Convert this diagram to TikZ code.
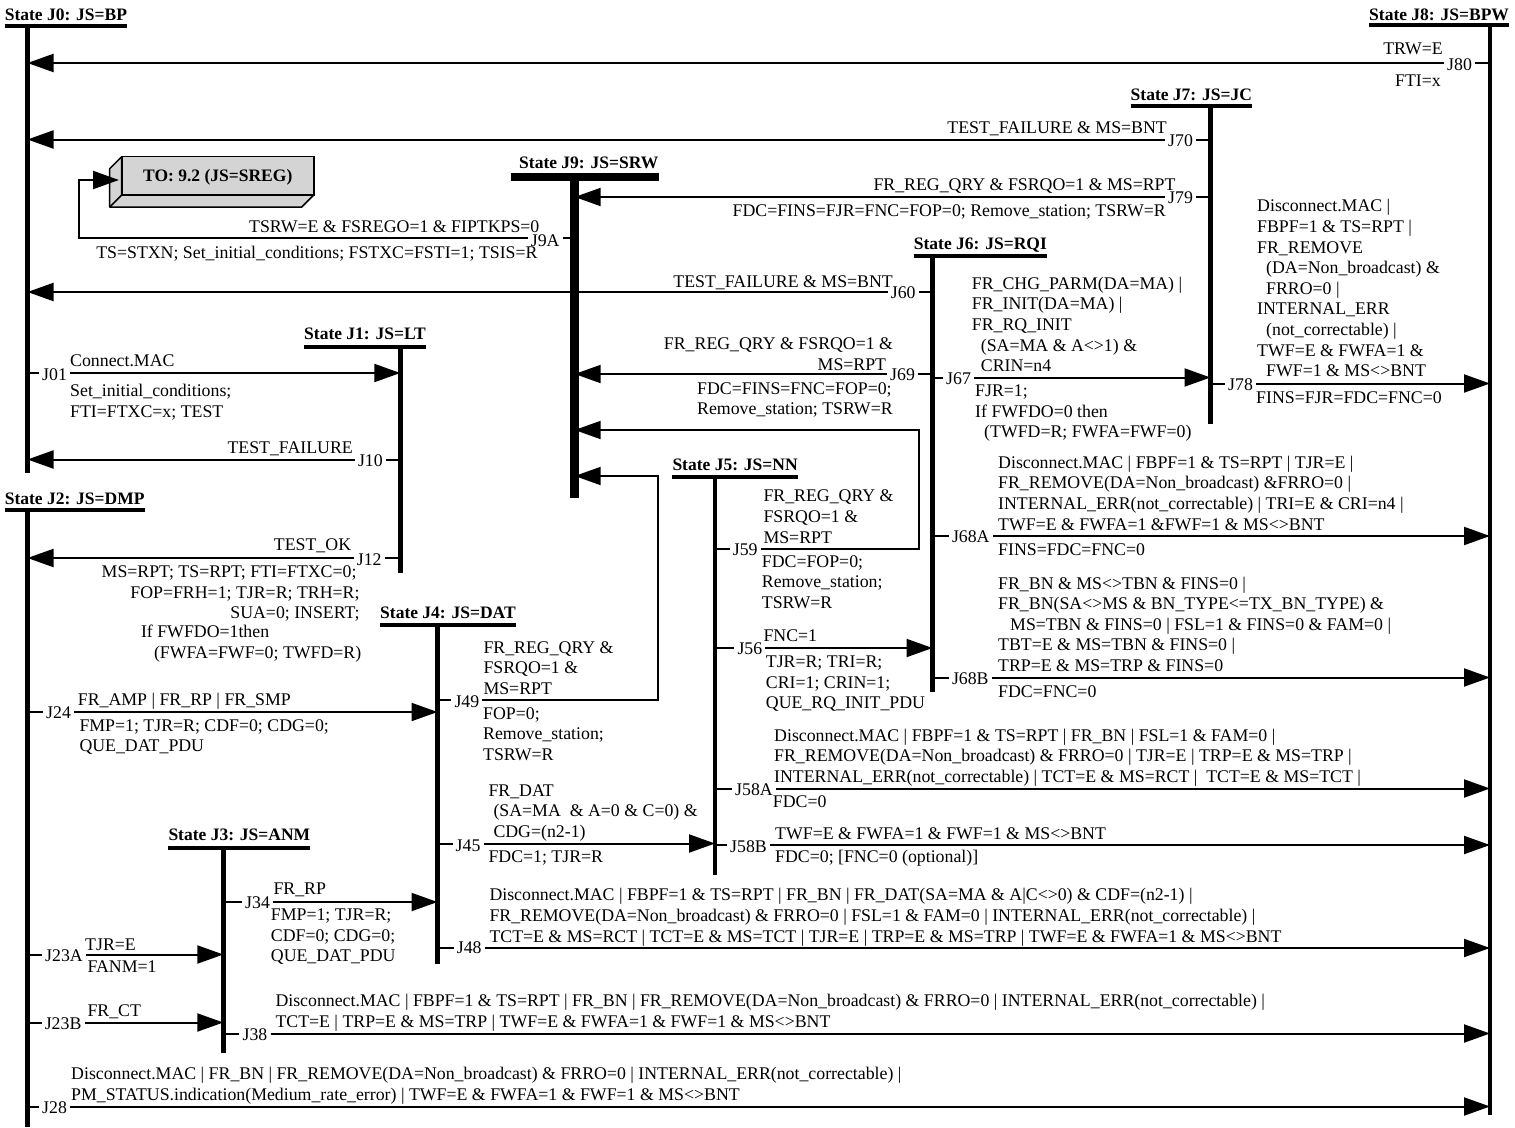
\documentclass[tikz,border=0pt]{standalone}
\usepackage{fontspec}
\setmainfont{Liberation Serif}
\usetikzlibrary{arrows.meta}
\definecolor{boxgray}{gray}{0.83}
\newcommand\ab[1]{\begin{tabular}[b]{@{}l@{}}#1\end{tabular}}
\newcommand\bl[1]{\begin{tabular}[t]{@{}l@{}}#1\end{tabular}}
\newcommand\abr[1]{\begin{tabular}[b]{@{}r@{}}#1\end{tabular}}
\newcommand\blr[1]{\begin{tabular}[t]{@{}r@{}}#1\end{tabular}}
\newcommand\ii{\hspace*{9pt}}
\newcommand\goL[3]{\draw[tk] (#1) -- (#2.east |- #1); \draw[ar] (#2.west |- #1) -- (#3);}
\newcommand\goR[3]{\draw[tk] (#1) -- (#2.west |- #1); \draw[ar] (#2.east |- #1) -- (#3);}
\tikzset{
  tx/.style={inner sep=0pt, font=\fontsize{17.8}{20.6}\selectfont},
  tw/.style={tx, anchor=base west},
  te/.style={tx, anchor=base east},
  jl/.style={tx, anchor=base west, inner xsep=3pt},
  hd/.style={inner sep=0pt, anchor=base west, font=\fontsize{17.5}{20}\selectfont\bfseries},
  bar/.style={line width=4.5pt},
  hbar/.style={line width=4pt},
  tk/.style={line width=2pt},
  ar/.style={line width=2pt, -{Triangle[length=26pt,width=18pt]}},
}
\begin{document}
\begin{tikzpicture}[x=1pt,y=-1pt]
\useasboundingbox (0,0) rectangle (1515,1127);

% state bar coordinates
\coordinate (J0t) at (27.5,26);    \coordinate (J0b) at (27.5,473);
\coordinate (J2t) at (27.5,510);   \coordinate (J2b) at (27.5,1127);
\coordinate (J8t) at (1490,25);    \coordinate (J8b) at (1490,1115);
\coordinate (J7t) at (1210.5,105.5); \coordinate (J7b) at (1210.5,424);
\coordinate (J9t) at (574.7,176.7);  \coordinate (J9b) at (574.7,497.7);
\coordinate (J6t) at (932.5,255.5);  \coordinate (J6b) at (932.5,692);
\coordinate (J1t) at (400.3,347);    \coordinate (J1b) at (400.3,573);
\coordinate (J5t) at (715,476.5);    \coordinate (J5b) at (715,874.5);
\coordinate (J4t) at (437.5,625);    \coordinate (J4b) at (437.5,963.5);
\coordinate (J3t) at (223.3,847.7);  \coordinate (J3b) at (223.3,1053);

% headers
\node[hd] (hJ0) at (4.6,20.7) {State J0: JS=BP};
\node[hd] (hJ8) at (1369,20.5) {State J8: JS=BPW};
\node[hd] (hJ7) at (1130.5,100.7) {State J7: JS=JC};
\node[hd] (hJ9) at (519,168.3) {State J9: JS=SRW};
\node[hd] (hJ6) at (913.7,249.3) {State J6: JS=RQI};
\node[hd] (hJ1) at (304,339.3) {State J1: JS=LT};
\node[hd] (hJ2) at (4.6,504.3) {State J2: JS=DMP};
\node[hd] (hJ5) at (672.3,470.7) {State J5: JS=NN};
\node[hd] (hJ4) at (380,618.3) {State J4: JS=DAT};
\node[hd] (hJ3) at (168.3,840) {State J3: JS=ANM};

% 3D box
\filldraw[fill=boxgray, line width=1.5pt, line join=round] (121.7,156.7) -- (109.7,168.7) -- (109.7,207) -- (301.8,207) -- (313.8,195) -- (121.7,195) -- cycle;
\draw[line width=1.5pt] (121.7,195) -- (109.7,207);
\node[draw, line width=1.5pt, fill=boxgray, minimum width=192pt, minimum height=38.3pt, inner sep=0pt, text height=12pt, text depth=0pt, font=\fontsize{17.5}{20}\selectfont\bfseries] (box) at (217.75,175.85) {TO: 9.2 (JS=SREG)};

% J80
\coordinate (s80) at (1490,63); \coordinate (e80) at (27.5,63);
\node[jl] (l80) at (1444,70.5) {J80};
\goL{s80}{l80}{e80}
\node[te] (a80) at (1443,54) {TRW=E};
\node[te] (b80) at (1441,86.7) {FTI=x};

% J70
\coordinate (s70) at (1210.5,139.5); \coordinate (e70) at (27.5,139.5);
\node[jl] (l70) at (1165,146.5) {J70};
\goL{s70}{l70}{e70}
\node[te] (a70) at (1167,133.5) {TEST\_FAILURE \& MS=BNT};

% J79
\coordinate (s79) at (1210.5,197); \coordinate (e79) at (574.7,197);
\node[jl] (l79) at (1165,203.5) {J79};
\goL{s79}{l79}{e79}
\node[te] (a79) at (1175.7,190.5) {FR\_REG\_QRY \& FSRQO=1 \& MS=RPT};
\node[te] (b79) at (1166,216.7) {FDC=FINS=FJR=FNC=FOP=0; Remove\_station; TSRW=R};

% J9A
\coordinate (s9A) at (574.7,238); \coordinate (c9A) at (78.5,180); \coordinate (bxin) at (119,180);
\node[jl] (l9A) at (527.7,246) {J9A};
\draw[tk] (s9A) -- (l9A.east |- s9A);
\draw[ar] (l9A.west |- s9A) -| (c9A) -- (bxin);
\node[te] (a9A) at (539.6,232.8) {TSRW=E \& FSREGO=1 \& FIPTKPS=0};
\node[te] (b9A) at (537.7,258.3) {TS=STXN; Set\_initial\_conditions; FSTXC=FSTI=1; TSIS=R};

% J60
\coordinate (s60) at (932.5,292); \coordinate (e60) at (27.5,292);
\node[jl] (l60) at (887.7,298) {J60};
\goL{s60}{l60}{e60}
\node[te] (a60) at (893,287.3) {TEST\_FAILURE \& MS=BNT};

% J01
\coordinate (s01) at (27.5,373); \coordinate (e01) at (400.3,373);
\node[jl] (l01) at (39,380.5) {J01};
\goR{s01}{l01}{e01}
\node[tw] (a01) at (70,366) {Connect.MAC};
\node[tw] (b01) at (70,396.7) {\bl{Set\_initial\_conditions;\\FTI=FTXC=x; TEST}};

% J10
\coordinate (s10) at (400.3,459.5); \coordinate (e10) at (27.5,459.5);
\node[jl] (l10) at (354.8,466) {J10};
\goL{s10}{l10}{e10}
\node[te] (a10) at (353,453.3) {TEST\_FAILURE};

% J12
\coordinate (s12) at (400.3,558); \coordinate (e12) at (27.5,558);
\node[jl] (l12) at (353.7,565) {J12};
\goL{s12}{l12}{e12}
\node[te] (a12) at (351.3,550.7) {TEST\_OK};
\node[te] (b12) at (359.7,577.7) {\blr{MS=RPT; TS=RPT; FTI=FTXC=0;\hspace*{3pt}\\FOP=FRH=1; TJR=R; TRH=R;\\SUA=0; INSERT;}};
\node[tw] (c12) at (140.8,637.7) {\bl{If FWFDO=1then\\\hspace*{13pt}(FWFA=FWF=0; TWFD=R)}};

% J69
\coordinate (s69) at (932.5,374); \coordinate (e69) at (574.7,374);
\node[jl] (l69) at (887,380.7) {J69};
\goL{s69}{l69}{e69}
\node[te] (a69) at (893.3,370) {\abr{FR\_REG\_QRY \& FSRQO=1 \&\\MS=RPT\hspace*{7pt}}};
\node[tw] (b69) at (697,394) {\bl{FDC=FINS=FNC=FOP=0;\\Remove\_station; TSRW=R}};

% J67
\coordinate (s67) at (932.5,377.5); \coordinate (e67) at (1210.5,377.5);
\node[jl] (l67) at (943,384.5) {J67};
\goR{s67}{l67}{e67}
\node[tw] (a67) at (971.7,371.7) {\ab{FR\_CHG\_PARM(DA=MA) |\\FR\_INIT(DA=MA) |\\FR\_RQ\_INIT\\\ii(SA=MA \& A<>1) \&\\\ii CRIN=n4}};
\node[tw] (b67) at (975,396.7) {\bl{FJR=1;\\If FWFDO=0 then\\\ii(TWFD=R; FWFA=FWF=0)}};

% J78
\coordinate (s78) at (1210.5,383.5); \coordinate (e78) at (1490,383.5);
\node[jl] (l78) at (1225,390.5) {J78};
\goR{s78}{l78}{e78}
\node[tw] (a78) at (1257,376.7) {\ab{Disconnect.MAC |\\FBPF=1 \& TS=RPT |\\FR\_REMOVE\\\ii(DA=Non\_broadcast) \&\\\ii FRRO=0 |\\INTERNAL\_ERR\\\ii(not\_correctable) |\\TWF=E \& FWFA=1 \&\\\ii FWF=1 \& MS<>BNT}};
\node[tw] (b78) at (1256,403.3) {FINS=FJR=FDC=FNC=0};

% J59
\coordinate (s59) at (715,548.5); \coordinate (c59) at (919,430); \coordinate (e59) at (574.7,430);
\node[jl] (l59) at (729.7,555.5) {J59};
\draw[tk] (s59) -- (l59.west |- s59);
\draw[ar] (l59.east |- s59) -| (c59) -- (e59);
\node[tw] (a59) at (763.3,543) {\ab{FR\_REG\_QRY \&\\FSRQO=1 \&\\MS=RPT}};
\node[tw] (b59) at (761.7,567.3) {\bl{FDC=FOP=0;\\Remove\_station;\\TSRW=R}};

% J49
\coordinate (s49) at (437.5,700); \coordinate (c49) at (658.3,476); \coordinate (e49) at (574.7,476);
\node[jl] (l49) at (451.3,707) {J49};
\draw[tk] (s49) -- (l49.west |- s49);
\draw[ar] (l49.east |- s49) -| (c49) -- (e49);
\node[tw] (a49) at (483.3,694.3) {\ab{FR\_REG\_QRY \&\\FSRQO=1 \&\\MS=RPT}};
\node[tw] (b49) at (483,719.3) {\bl{FOP=0;\\Remove\_station;\\TSRW=R}};

% J56
\coordinate (s56) at (715,648); \coordinate (e56) at (932.5,648);
\node[jl] (l56) at (734.3,654) {J56};
\goR{s56}{l56}{e56}
\node[tw] (a56) at (763.3,641) {FNC=1};
\node[tw] (b56) at (765.7,667.7) {\bl{TJR=R; TRI=R;\\CRI=1; CRIN=1;\\QUE\_RQ\_INIT\_PDU}};

% J68A
\coordinate (s68a) at (932.5,536); \coordinate (e68a) at (1490,536);
\node[jl] (l68a) at (948.8,542.5) {J68A};
\goR{s68a}{l68a}{e68a}
\node[tw] (a68a) at (998,530) {\ab{Disconnect.MAC | FBPF=1 \& TS=RPT | TJR=E |\\FR\_REMOVE(DA=Non\_broadcast) \&FRRO=0 |\\INTERNAL\_ERR(not\_correctable) | TRI=E \& CRI=n4 |\\TWF=E \& FWFA=1 \&FWF=1 \& MS<>BNT}};
\node[tw] (b68a) at (998,555) {FINS=FDC=FNC=0};

% J68B
\coordinate (s68b) at (932.5,677.5); \coordinate (e68b) at (1490,677.5);
\node[jl] (l68b) at (948.8,684) {J68B};
\goR{s68b}{l68b}{e68b}
\node[tw] (a68b) at (998,671.5) {\ab{FR\_BN \& MS<>TBN \& FINS=0 |\\FR\_BN(SA<>MS \& BN\_TYPE<=TX\_BN\_TYPE) \&\\\hspace*{12pt}MS=TBN \& FINS=0 | FSL=1 \& FINS=0 \& FAM=0 |\\TBT=E \& MS=TBN \& FINS=0 |\\TRP=E \& MS=TRP \& FINS=0}};
\node[tw] (b68b) at (998,697) {FDC=FNC=0};

% J58A
\coordinate (s58a) at (715,788.5); \coordinate (e58a) at (1490,788.5);
\node[jl] (l58a) at (732,795.5) {J58A};
\goR{s58a}{l58a}{e58a}
\node[tw] (a58a) at (774,782.5) {\ab{Disconnect.MAC | FBPF=1 \& TS=RPT | FR\_BN | FSL=1 \& FAM=0 |\\FR\_REMOVE(DA=Non\_broadcast) \& FRRO=0 | TJR=E | TRP=E \& MS=TRP |\\INTERNAL\_ERR(not\_correctable) | TCT=E \& MS=RCT |\ \ TCT=E \& MS=TCT |}};
\node[tw] (b58a) at (772.7,807.5) {FDC=0};

% J58B
\coordinate (s58b) at (715,845); \coordinate (e58b) at (1490,845);
\node[jl] (l58b) at (727,852) {J58B};
\goR{s58b}{l58b}{e58b}
\node[tw] (a58b) at (775,839.3) {TWF=E \& FWFA=1 \& FWF=1 \& MS<>BNT};
\node[tw] (b58b) at (775,862) {FDC=0; [FNC=0 (optional)]};

% J45
\coordinate (s45) at (437.5,843.5); \coordinate (e45) at (715,843.5);
\node[jl] (l45) at (452.5,851) {J45};
\goR{s45}{l45}{e45}
\node[tw] (a45) at (488.3,837.5) {\ab{FR\_DAT\\\hspace*{5pt}(SA=MA\ \ \& A=0 \& C=0) \&\\\hspace*{5pt}CDG=(n2-1)}};
\node[tw] (b45) at (488.3,862) {FDC=1; TJR=R};

% J24
\coordinate (s24) at (27.5,712); \coordinate (e24) at (437.5,712);
\node[jl] (l24) at (43,718) {J24};
\goR{s24}{l24}{e24}
\node[tw] (a24) at (77.7,705) {FR\_AMP | FR\_RP | FR\_SMP};
\node[tw] (b24) at (79.3,731) {\bl{FMP=1; TJR=R; CDF=0; CDG=0;\\QUE\_DAT\_PDU}};

% J34
\coordinate (s34) at (223.3,902); \coordinate (e34) at (437.5,902);
\node[jl] (l34) at (242,908.5) {J34};
\goR{s34}{l34}{e34}
\node[tw] (a34) at (273.3,894) {FR\_RP};
\node[tw] (b34) at (270.7,920.5) {\bl{FMP=1; TJR=R;\\CDF=0; CDG=0;\\QUE\_DAT\_PDU}};

% J48
\coordinate (s48) at (437.5,948); \coordinate (e48) at (1490,948);
\node[jl] (l48) at (453.7,953.5) {J48};
\goR{s48}{l48}{e48}
\node[tw] (a48) at (489.3,942) {\ab{Disconnect.MAC | FBPF=1 \& TS=RPT | FR\_BN | FR\_DAT(SA=MA \& A|C<>0) \& CDF=(n2-1) |\\FR\_REMOVE(DA=Non\_broadcast) \& FRRO=0 | FSL=1 \& FAM=0 | INTERNAL\_ERR(not\_correctable) |\\TCT=E \& MS=RCT | TCT=E \& MS=TCT | TJR=E | TRP=E \& MS=TRP | TWF=E \& FWFA=1 \& MS<>BNT}};

% J23A
\coordinate (s23a) at (27.5,954.5); \coordinate (e23a) at (223.3,954.5);
\node[jl] (l23a) at (42,961) {J23A};
\goR{s23a}{l23a}{e23a}
\node[tw] (a23a) at (85,950) {TJR=E};
\node[tw] (b23a) at (87.3,972) {FANM=1};

% J23B
\coordinate (s23b) at (27.5,1022.5); \coordinate (e23b) at (223.3,1022.5);
\node[jl] (l23b) at (41.6,1029) {J23B};
\goR{s23b}{l23b}{e23b}
\node[tw] (a23b) at (87.3,1016) {FR\_CT};

% J38
\coordinate (s38) at (223.3,1033.5); \coordinate (e38) at (1490,1033.5);
\node[jl] (l38) at (239.4,1040) {J38};
\goR{s38}{l38}{e38}
\node[tw] (a38) at (275.3,1027.5) {\ab{Disconnect.MAC | FBPF=1 \& TS=RPT | FR\_BN | FR\_REMOVE(DA=Non\_broadcast) \& FRRO=0 | INTERNAL\_ERR(not\_correctable) |\\TCT=E | TRP=E \& MS=TRP | TWF=E \& FWFA=1 \& FWF=1 \& MS<>BNT}};

% J28
\coordinate (s28) at (27.5,1106.5); \coordinate (e28) at (1490,1106.5);
\node[jl] (l28) at (39,1113) {J28};
\goR{s28}{l28}{e28}
\node[tw] (a28) at (71,1100.5) {\ab{Disconnect.MAC | FR\_BN | FR\_REMOVE(DA=Non\_broadcast) \& FRRO=0 | INTERNAL\_ERR(not\_correctable) |\\PM\_STATUS.indication(Medium\_rate\_error) | TWF=E \& FWFA=1 \& FWF=1 \& MS<>BNT}};

% state bars and underlines (drawn last, on top)
\draw[bar] (J0t) -- (J0b);
\draw[bar] (J2t) -- (J2b);
\draw[bar] (J8t) -- (J8b);
\draw[bar] (J7t) -- (J7b);
\draw[line width=8.5pt] (J9t) -- (J9b);
\draw[bar] (J6t) -- (J6b);
\draw[bar] (J1t) -- (J1b);
\draw[bar] (J5t) -- (J5b);
\draw[bar] (J4t) -- (J4b);
\draw[bar] (J3t) -- (J3b);
\draw[hbar] (hJ0.west |- J0t) -- (hJ0.east |- J0t);
\draw[hbar] (hJ2.west |- J2t) -- (hJ2.east |- J2t);
\draw[hbar] (hJ8.west |- J8t) -- (hJ8.east |- J8t);
\draw[hbar] (hJ7.west |- J7t) -- (hJ7.east |- J7t);
\draw[line width=8pt] (511,176.7) -- (hJ9.east |- J9t);
\draw[hbar] (hJ6.west |- J6t) -- (hJ6.east |- J6t);
\draw[hbar] (hJ1.west |- J1t) -- (hJ1.east |- J1t);
\draw[hbar] (hJ5.west |- J5t) -- (hJ5.east |- J5t);
\draw[hbar] (hJ4.west |- J4t) -- (hJ4.east |- J4t);
\draw[hbar] (hJ3.west |- J3t) -- (hJ3.east |- J3t);
\end{tikzpicture}
\end{document}
